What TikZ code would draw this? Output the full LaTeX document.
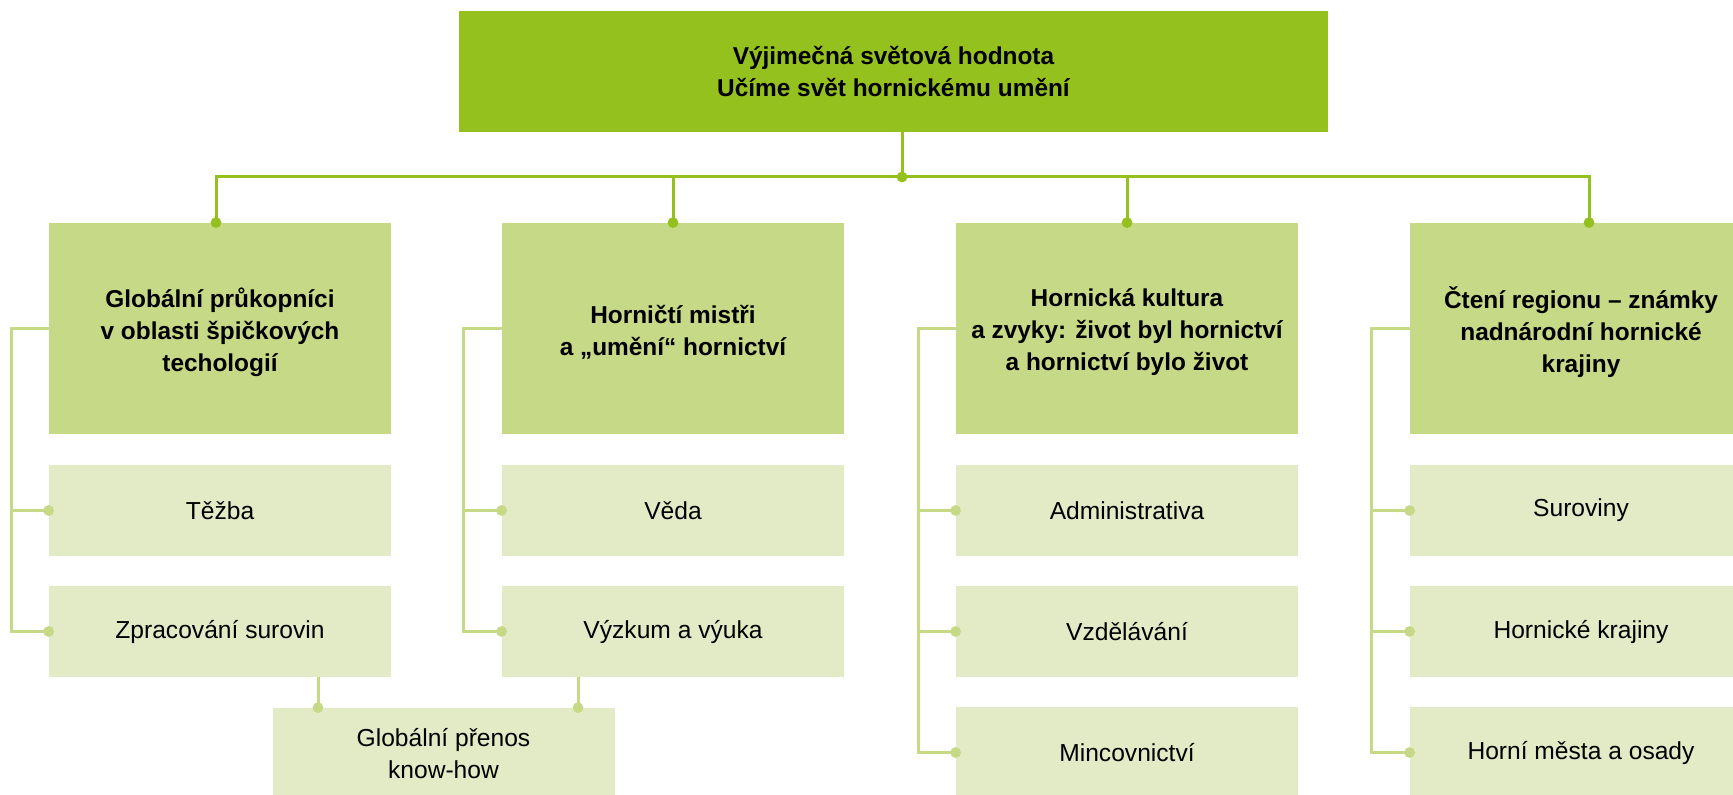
\documentclass[tikz,border=0pt]{standalone}
\usepackage{fontspec}
\setmainfont{Liberation Sans}
\definecolor{gDark}{HTML}{95C11F}
\definecolor{gMid}{HTML}{C5D987}
\definecolor{gLight}{HTML}{E2EBC5}
\begin{document}
\begin{tikzpicture}[x=0.5pt,y=-0.5pt,
  topbox/.style={fill=gDark,minimum width=434.5pt,minimum height=60.5pt,inner sep=0pt,align=center,
    font=\bfseries\fontsize{12.2}{16}\selectfont},
  headbox/.style={fill=gMid,minimum width=171pt,minimum height=105.5pt,inner sep=0pt},
  headtext/.style={inner sep=0pt,align=center,font=\bfseries\fontsize{12.2}{16}\selectfont},
  itembox/.style={fill=gLight,minimum width=171pt,minimum height=45.5pt,inner sep=0pt,align=center,
    font=\fontsize{12.3}{16}\selectfont},
  mainline/.style={draw=gDark,line width=1.5pt},
  sideline/.style={draw=gMid,line width=1.5pt},
  maindot/.style={fill=gDark},
  sidedot/.style={fill=gMid}]
\useasboundingbox (0,0) rectangle (1733,795);
\clip (0,0) rectangle (1733,795);
% top
\node[topbox] (top) at (893.5,71.5) {Výjimečná světová hodnota\\Učíme svět hornickému umění};
% headings
\node[headbox] (h1) at (220,328.5) {};
\node[headbox] (h2) at (673,328.5) {};
\node[headbox] (h3) at (1127,328.5) {};
\node[headbox] (h4) at (1581,328.5) {};
\node[headtext] (h1t) at ([yshift=-1.8pt]h1.center) {Globální průkopníci\\v oblasti špičkových\\techologií};
\node[headtext] (h2t) at ([yshift=-1.8pt]h2.center) {Horničtí mistři\\a „umění“ hornictví};
\node[headtext] (h3t) at ([yshift=-1.8pt]h3.center) {Hornická kultura\\a zvyky: život byl hornictví\\a hornictví bylo život};
\node[headtext] (h4t) at ([yshift=-1.8pt]h4.center) {Čtení regionu – známky\\nadnárodní hornické\\krajiny};
% items
\node[itembox] (a1) at (220,510.5) {Těžba};
\node[itembox] (a2) at (220,631.5) {Zpracování surovin};
\node[itembox] (b1) at (673,510.5) {Věda};
\node[itembox] (b2) at (673,631.5) {Výzkum a výuka};
\node[itembox] (c1) at (1127,510.5) {Administrativa};
\node[itembox] (c2) at (1127,631.5) {Vzdělávání};
\node[itembox] (c3) at (1127,752.5) {Mincovnictví};
\node[itembox] (d1) at (1581,510.5) {Suroviny};
\node[itembox] (d2) at (1581,631.5) {Hornické krajiny};
\node[itembox] (d3) at (1581,752.5) {Horní města a osady};
\node[itembox] (g) at (443.5,753.5) {Globální přenos\\know-how};
% main connectors
\coordinate (bus) at (902,177);
\coordinate (t1) at ([xshift=-2pt]h1.north);
\coordinate (t4) at ([xshift=4pt]h4.north);
\draw[mainline] (top.south -| bus) -- (bus);
\draw[mainline] (t1) |- (t4 |- bus) -- (t4);
\draw[mainline] (h2.north) -- (h2.north |- bus);
\draw[mainline] (h3.north) -- (h3.north |- bus);
\foreach \p in {bus,t1,t4,h2.north,h3.north} \fill[maindot] (\p) circle (2.7pt);
% side connectors
\draw[sideline] (h1.west) -- ++(-18.5pt,0) coordinate (s1) |- (a2.west);
\draw[sideline] (s1 |- a1.west) -- (a1.west);
\draw[sideline] (h2.west) -- ++(-19pt,0) coordinate (s2) |- (b2.west);
\draw[sideline] (s2 |- b1.west) -- (b1.west);
\draw[sideline] (h3.west) -- ++(-18.5pt,0) coordinate (s3) |- (c3.west);
\draw[sideline] (s3 |- c1.west) -- (c1.west);
\draw[sideline] (s3 |- c2.west) -- (c2.west);
\draw[sideline] (h4.west) -- ++(-19pt,0) coordinate (s4) |- (d3.west);
\draw[sideline] (s4 |- d1.west) -- (d1.west);
\draw[sideline] (s4 |- d2.west) -- (d2.west);
\foreach \p in {a1,a2,b1,b2,c1,c2,c3,d1,d2,d3} \fill[sidedot] (\p.west) circle (2.7pt);
% global transfer
\coordinate (ga) at ([xshift=49pt]a2.south);
\coordinate (gb) at ([xshift=-47.5pt]b2.south);
\draw[sideline] (ga) -- (ga |- g.north);
\draw[sideline] (gb) -- (gb |- g.north);
\fill[sidedot] (ga |- g.north) circle (2.7pt);
\fill[sidedot] (gb |- g.north) circle (2.7pt);
\end{tikzpicture}
\end{document}
